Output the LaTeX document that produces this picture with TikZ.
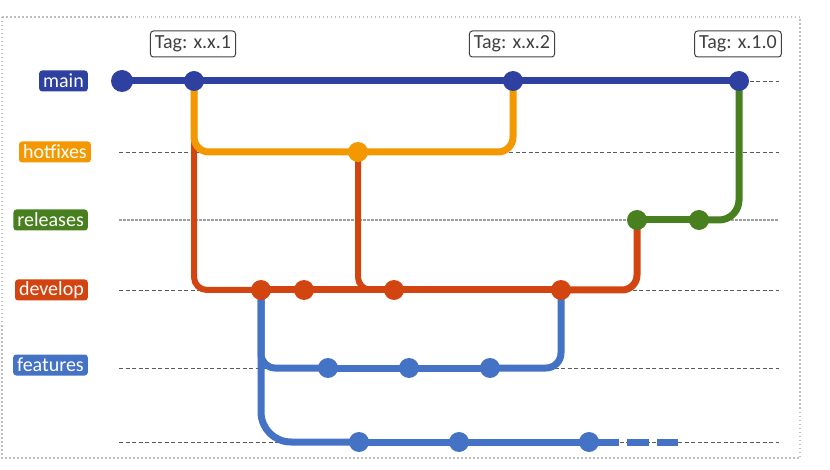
\documentclass[tikz,border=0pt]{standalone}
\usepackage{fontspec}
\setmainfont{Carlito}
\usetikzlibrary{backgrounds}
\definecolor{cmain}{RGB}{46,64,160}
\definecolor{chot}{RGB}{243,152,0}
\definecolor{crel}{RGB}{72,128,32}
\definecolor{cdev}{RGB}{210,68,16}
\definecolor{cfeat}{RGB}{68,114,196}
\definecolor{tagc}{RGB}{64,64,64}
\definecolor{guidec}{RGB}{90,90,90}
\definecolor{framec}{RGB}{190,190,190}
\begin{document}
\begin{tikzpicture}[x=1pt,y=-1pt,
  dot/.style={circle, fill=#1, inner sep=0pt, minimum size=20pt},
  bigdot/.style={circle, fill=#1, inner sep=0pt, minimum size=22pt},
  lab/.style={fill=#1, text=white, rounded corners=3pt, inner xsep=4pt, inner ysep=0pt,
    minimum height=21pt, anchor=east, font=\fontsize{20}{20}\selectfont},
  tag/.style={draw=tagc, rounded corners=3pt, line width=1pt, text=tagc, inner xsep=4.5pt,
    inner ysep=0pt, minimum height=26pt, font=\fontsize{20}{20}\selectfont},
  guide/.style={draw=guidec, line width=0.8pt, dash pattern=on 4pt off 2.5pt},
  relguide/.style={draw=gray!75, line width=2.5pt, dash pattern=on 2.5pt off 1.5pt},
  branch/.style={draw=#1, line width=7pt, line cap=butt},
]
\useasboundingbox (0,0) rectangle (830,470);

% labels
\node[lab=cmain] (lmain) at (88,81) {main};
\node[lab=chot] (lhot) at (91,152) {hotfixes};
\node[lab=crel] (lrel) at (88,220) {releases};
\node[lab=cdev] (ldev) at (88,290) {develop};
\node[lab=cfeat] (lfeat) at (88,365) {features};

% tags
\node[tag] (t1) at (193,44) {Tag: x.x.1};
\node[tag] (t2) at (512,44) {Tag: x.x.2};
\node[tag] (t3) at (738,44) {Tag: x.1.0};

% commits
\node[bigdot=cmain] (m1) at (122,81) {};
\node[dot=cmain] (m2) at (194,81) {};
\node[dot=cmain] (m3) at (513,81) {};
\node[dot=cmain] (m4) at (739,81) {};

\node[dot=chot] (h1) at (358,152) {};

\node[dot=crel] (r1) at (637,220) {};
\node[dot=crel] (r2) at (699,220) {};

\node[dot=cdev] (d1) at (261,290) {};
\node[dot=cdev] (d2) at (304,290) {};
\node[dot=cdev] (d3) at (394,290) {};
\node[dot=cdev] (d4) at (561,290) {};

\node[dot=cfeat] (f1) at (328,368) {};
\node[dot=cfeat] (f2) at (409,368) {};
\node[dot=cfeat] (f3) at (490,368) {};

\node[dot=cfeat] (g1) at (359,442) {};
\node[dot=cfeat] (g2) at (459,442) {};
\node[dot=cfeat] (g3) at (589,442) {};
\coordinate (gend) at (678,442);

\begin{scope}[on background layer]
  % frame
  \draw[framec, line width=1.5pt, dash pattern=on 1.5pt off 2.5pt] (2,17) rectangle (800,458);
  % guides
  \draw[guide] (119,81) -- (779,81);
  \draw[guide] (119,152) -- (779,152);
  \draw[relguide] (119,220) -- (779,220);
  \draw[guide] (119,290) -- (779,290);
  \draw[guide] (119,368) -- (779,368);
  \draw[guide] (119,442) -- (779,442);

  % develop
  \draw[branch=cdev, line width=6pt, rounded corners=13pt] (m2.center) |- (d1.center);
  \draw[branch=cdev, line width=6pt, rounded corners=13pt] (h1.center) |- (d3.center);
  \draw[branch=cdev] (d1.center) -- (d2.center) -- (d3.center) -- (d4.center);
  \draw[branch=cdev, rounded corners=15pt] (d4.center) -| (r1.center);
  % features
  \draw[branch=cfeat, rounded corners=14pt] (d1.center) |- (f1.center);
  \draw[branch=cfeat, rounded corners=30pt] (d1.center) |- (g1.center);
  \draw[branch=cfeat] (f1.center) -- (f2.center) -- (f3.center);
  \draw[branch=cfeat, rounded corners=15pt] (f3.center) -| (d4.center);
  \draw[branch=cfeat] (g1.center) -- (g2.center) -- (g3.center);
  \draw[branch=cfeat, dash pattern=on 30pt off 8pt on 22pt off 8pt on 22pt off 200pt] (g3.center) -- (gend);
  % hotfixes
  \draw[branch=chot, rounded corners=15pt] (m2.center) |- (h1.center) -| (m3.center);
  % releases
  \draw[branch=crel] (r1.center) -- (r2.center);
  \draw[branch=crel, rounded corners=20pt] (r2.center) -| (m4.center);
  % main
  \draw[branch=cmain] (m1.center) -- (m2.center) -- (m3.center) -- (m4.center);
\end{scope}
\end{tikzpicture}
\end{document}
